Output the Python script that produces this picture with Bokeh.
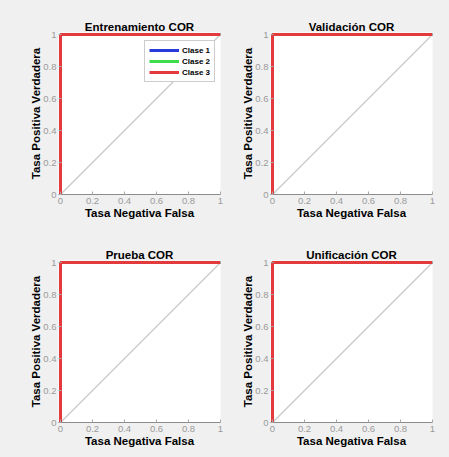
from bokeh.plotting import figure
from bokeh.layouts import gridplot
from bokeh.models import Range1d, FixedTicker, Legend, LegendItem
from bokeh.embed import file_html
from bokeh.resources import INLINE

# ---- data ----
titles = ["Entrenamiento COR", "Validación COR", "Prueba COR", "Unificación COR"]
classes = ["Clase 1", "Clase 2", "Clase 3"]
class_colors = ["#2a3ad8", "#3fdc4a", "#e33b3d"]
# ROC curves (false positive rate / true positive rate), identical for all subsets
fpr_clase1 = [0, 0, 1]
tpr_clase1 = [0, 1, 1]
fpr_clase2 = [0, 0, 1]
tpr_clase2 = [0, 1, 1]
fpr_clase3 = [0, 0, 1]
tpr_clase3 = [0, 1, 1]
chance_x = [0, 1]
chance_y = [0, 1]
tick_values = [0, 0.2, 0.4, 0.6, 0.8, 1]
tick_labels = ["0", "0.2", "0.4", "0.6", "0.8", "1"]
x_label = "Tasa Negativa Falsa"
y_label = "Tasa Positiva Verdadera"

curves = [(fpr_clase1, tpr_clase1), (fpr_clase2, tpr_clase2), (fpr_clase3, tpr_clase3)]

BG = "#f0f0f0"
FONT = "Liberation Sans"
pad = 0.0125

# width, height, border left, right, top, bottom
cells = [
    (232, 234, 58, 12, 32, 40),
    (217, 234, 38, 17, 32, 40),
    (232, 223, 58, 12, 26, 35),
    (217, 223, 38, 17, 26, 35),
]

figs = []
for i, (title, (w, h, bl, br, bt, bb)) in enumerate(zip(titles, cells)):
    p = figure(width=w, height=h, output_backend="svg", toolbar_location=None,
               x_range=Range1d(-pad, 1), y_range=Range1d(0, 1 + pad),
               min_border_left=bl, min_border_right=br,
               min_border_top=bt, min_border_bottom=bb)
    p.border_fill_color = BG
    p.background_fill_color = "white"
    p.outline_line_color = None
    p.grid.visible = False

    p.title.text = title
    p.title.text_font = FONT
    p.title.text_font_size = "11.5px"
    p.title.text_font_style = "bold"
    p.title.text_color = "black"
    p.title.align = "center"
    p.title.standoff = 0
    p.title.offset = 0

    for ax, lab in ((p.xaxis[0], x_label), (p.yaxis[0], y_label)):
        ax.ticker = FixedTicker(ticks=tick_values)
        ax.major_label_overrides = {v: t for v, t in zip(tick_values, tick_labels)}
        ax.minor_tick_line_color = None
        ax.major_tick_in = 3
        ax.major_tick_out = 0
        ax.major_tick_line_color = "#a8a8a8"
        ax.axis_line_color = "#8c8c8c"
        ax.major_label_text_font = FONT
        ax.major_label_text_font_size = "9.5px"
        ax.major_label_text_color = "#9a9a9a"
        ax.major_label_standoff = 3
        ax.axis_label = lab
        ax.axis_label_text_font = FONT
        ax.axis_label_text_font_size = "11.5px"
        ax.axis_label_text_font_style = "bold"
        ax.axis_label_text_color = "black"
        ax.axis_label_standoff = 0
    p.yaxis[0].axis_line_color = None
    p.yaxis[0].major_label_standoff = 2
    p.yaxis[0].axis_label_standoff = -2

    p.line(chance_x, chance_y, line_color="#c8c8c8", line_width=1.2)
    renderers = []
    for (fx, ty), col in zip(curves, class_colors):
        r = p.line(fx, ty, line_color=col, line_width=3)
        renderers.append(r)

    if i == 0:
        items = [LegendItem(label=c, renderers=[r]) for c, r in zip(classes, renderers)]
        lg = Legend(items=items, location=(86, 112))
        lg.padding = 4
        lg.spacing = 1
        lg.margin = 0
        lg.label_height = 10
        lg.glyph_height = 10
        lg.glyph_width = 30
        lg.label_standoff = 3
        lg.label_text_font = FONT
        lg.label_text_font_size = "8px"
        lg.label_text_font_style = "bold"
        lg.label_text_color = "black"
        lg.border_line_color = "#9a9a9a"
        lg.border_line_width = 1
        lg.background_fill_color = "white"
        lg.background_fill_alpha = 1
        p.add_layout(lg, "center")
    figs.append(p)

layout = gridplot([[figs[0], figs[1]], [figs[2], figs[3]]], toolbar_location=None)
layout.styles = {"background-color": BG}
open("out.html", "w").write(file_html(layout, INLINE))
